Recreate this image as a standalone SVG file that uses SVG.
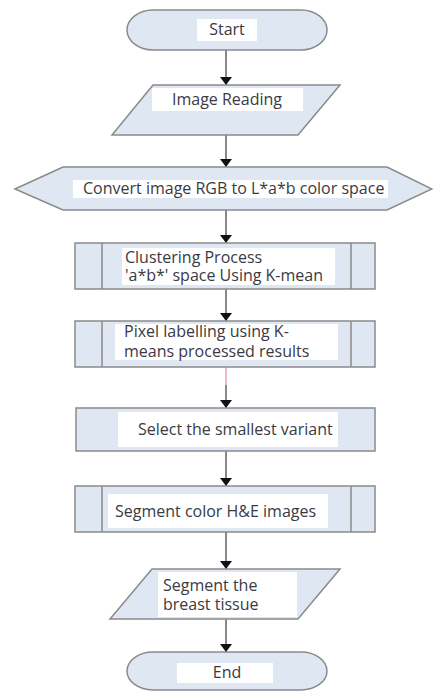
<svg xmlns="http://www.w3.org/2000/svg" width="433" height="693" viewBox="0 0 433 693">
<defs>
<style>
.shape{fill:#dfe7f3;stroke:#8a8a8a;stroke-width:1.5}
.tb{fill:#ffffff;stroke:none}
.t{font-family:"Open Sans","Liberation Sans",Arial,sans-serif;font-size:16px;fill:#3a3a44}
.c{text-anchor:middle}
.conn{stroke:#606060;stroke-width:1.5;fill:none}
</style>
<marker id="ah" viewBox="0 0 8 12" refX="8" refY="6" markerWidth="8" markerHeight="12" markerUnits="userSpaceOnUse" orient="auto">
<path d="M0,0 L8,6 L0,12 z" fill="#111111"/>
</marker>
</defs>
<rect width="433" height="693" fill="#ffffff"/>
<g id="connectors">
<line class="conn" x1="226" y1="50" x2="226" y2="85" marker-end="url(#ah)"/>
<line class="conn" x1="226" y1="135" x2="226" y2="167" marker-end="url(#ah)"/>
<line class="conn" x1="226" y1="210" x2="226" y2="243" marker-end="url(#ah)"/>
<line class="conn" x1="226" y1="289" x2="226" y2="321" marker-end="url(#ah)"/>
<line x1="226" y1="367" x2="226" y2="385" stroke="#e07080" stroke-width="1"/>
<line class="conn" x1="226" y1="385" x2="226" y2="408" marker-end="url(#ah)"/>
<line class="conn" x1="226" y1="451" x2="226" y2="486" marker-end="url(#ah)"/>
<line class="conn" x1="226" y1="532" x2="226" y2="569" marker-end="url(#ah)"/>
<line class="conn" x1="226" y1="619" x2="226" y2="652" marker-end="url(#ah)"/>
</g>
<g id="start">
<rect class="shape" x="127" y="10" width="200" height="40" rx="26" ry="20"/>
<rect class="tb" x="197" y="19" width="60" height="22"/>
<text class="t c" x="227" y="35">Start</text>
</g>
<g id="image-reading">
<polygon class="shape" points="153,85 340,85 298,135 112,135"/>
<rect class="tb" x="152" y="88" width="151" height="23"/>
<text class="t c" x="227" y="105">Image Reading</text>
</g>
<g id="convert">
<polygon class="shape" points="15,189 63,167 387,167 432,189 387,210 63,210"/>
<rect class="tb" x="73" y="180" width="315" height="18"/>
<text class="t" x="83" y="194">Convert image RGB to L*a*b color space</text>
</g>
<g id="clustering">
<rect class="shape" x="75" y="243" width="300" height="46"/>
<line class="shape" x1="102" y1="243" x2="102" y2="289"/>
<line class="shape" x1="351" y1="243" x2="351" y2="289"/>
<rect class="tb" x="122" y="248" width="213" height="37"/>
<text class="t" x="125" y="263">Clustering Process</text>
<text class="t" x="125" y="281">'a*b*' space Using K-mean</text>
</g>
<g id="pixel-labelling">
<rect class="shape" x="75" y="321" width="300" height="46"/>
<line class="shape" x1="102" y1="321" x2="102" y2="367"/>
<line class="shape" x1="351" y1="321" x2="351" y2="367"/>
<rect class="tb" x="115" y="324" width="223" height="36"/>
<text class="t" x="124" y="337">Pixel labelling using K-</text>
<text class="t" x="124" y="357">means processed results</text>
</g>
<g id="select">
<rect class="shape" x="76" y="408" width="299" height="43"/>
<rect class="tb" x="118" y="412" width="220" height="35"/>
<text class="t" x="138" y="435">Select the smallest variant</text>
</g>
<g id="segment-color">
<rect class="shape" x="75" y="486" width="300" height="46"/>
<line class="shape" x1="102" y1="486" x2="102" y2="532"/>
<line class="shape" x1="351" y1="486" x2="351" y2="532"/>
<rect class="tb" x="108" y="494" width="220" height="34"/>
<text class="t" x="115" y="517">Segment color H&amp;E images</text>
</g>
<g id="segment-breast">
<polygon class="shape" points="152,569 340,569 298,619 110,619"/>
<rect class="tb" x="158" y="572" width="139" height="45"/>
<text class="t" x="163" y="591">Segment the</text>
<text class="t" x="163" y="610">breast tissue</text>
</g>
<g id="end">
<rect class="shape" x="127" y="652" width="200" height="38" rx="26" ry="19"/>
<rect class="tb" x="177" y="663" width="96" height="20"/>
<text class="t c" x="227" y="678">End</text>
</g>
</svg>
